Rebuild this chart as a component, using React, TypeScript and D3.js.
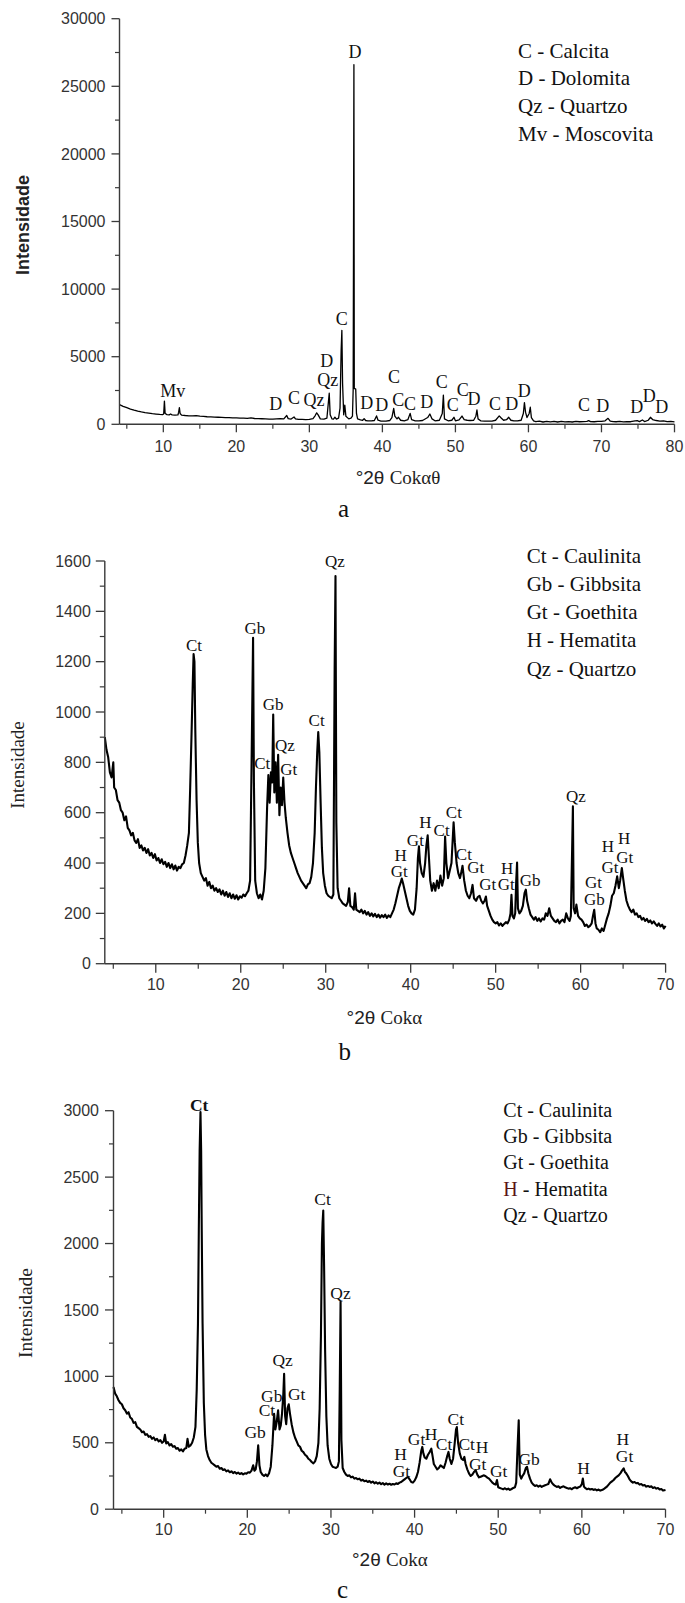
import React from 'react';
import * as d3 from 'd3';

type P = [number, number];
type L = [string, number, number];

// ---------- Panel a (calcário) ----------
const A_DATA: P[] = [
  [4.0,1450],[4.5,1330],[5.0,1230],[5.5,1130],[6.0,1050],[6.5,980],[7.0,920],[7.5,870],[8.0,830],[8.5,790],[9.0,760],[9.5,735],[9.9,720],[10.05,760],[10.15,1720],[10.25,800],[10.5,720],[10.8,700],[11.0,760],[11.2,700],[11.6,680],[12.0,690],[12.1,900],[12.2,1230],[12.3,800],[12.5,680],[13.0,650],[13.5,630],[14.0,620],[14.5,640],[15.0,600],[15.5,580],[16.0,560],[16.5,555],[17.0,530],[17.5,520],[18.0,510],[18.5,500],[19.0,490],[19.5,480],[20.0,470],[20.5,460],[21.0,450],[21.5,440],[22.0,470],[22.5,430],[23.0,420],[23.5,410],[24.0,400],[24.5,390],[25.0,380],[25.5,400],[26.0,420],[26.5,400],[26.9,650],[27.1,420],[27.5,390],[27.9,540],[28.1,400],[28.5,370],[29.0,360],[29.5,350],[30.0,360],[30.5,420],[30.8,650],[31.0,850],[31.2,700],[31.5,400],[32.0,380],[32.4,450],[32.6,1600],[32.72,2300],[32.85,700],[33.1,400],[33.3,380],[33.5,520],[33.7,380],[34.0,450],[34.2,1200],[34.35,5450],[34.45,6950],[34.55,3000],[34.7,700],[34.85,1420],[35.0,600],[35.4,400],[35.7,450],[35.9,600],[36.0,2600],[36.1,26600],[36.15,2660],[36.35,2600],[36.45,800],[36.6,400],[37.0,330],[37.3,300],[37.5,420],[37.7,280],[38.0,260],[38.5,250],[38.9,280],[39.2,620],[39.4,300],[39.8,240],[40.5,230],[41.0,280],[41.3,500],[41.55,1180],[41.7,600],[42.0,400],[42.2,520],[42.5,300],[43.0,260],[43.5,350],[43.8,810],[44.0,350],[44.5,260],[45.0,250],[45.5,280],[46.2,500],[46.5,760],[46.8,400],[47.2,260],[47.8,300],[48.2,800],[48.35,2160],[48.5,400],[49.0,260],[49.5,300],[49.8,520],[50.0,260],[50.5,330],[50.9,610],[51.2,350],[51.6,300],[52.0,280],[52.5,300],[52.8,600],[52.95,1060],[53.1,400],[53.5,250],[54.0,240],[54.5,230],[55.0,240],[55.5,300],[56.0,620],[56.3,450],[56.6,300],[57.0,340],[57.3,520],[57.6,300],[58.0,250],[58.5,250],[59.0,300],[59.3,800],[59.45,1600],[59.6,900],[59.8,500],[60.1,800],[60.25,1260],[60.4,500],[60.7,260],[61.0,200],[61.5,230],[62.0,170],[62.5,210],[63.0,180],[63.5,220],[64.0,170],[64.5,210],[65.0,180],[65.5,200],[66.0,170],[66.5,210],[67.0,190],[67.5,200],[68.0,220],[68.25,270],[68.5,200],[69.0,190],[69.5,210],[70.0,220],[70.5,260],[70.9,440],[71.2,230],[71.6,200],[72.0,190],[72.5,210],[73.0,180],[73.5,200],[74.0,190],[74.6,260],[74.9,270],[75.2,200],[75.6,320],[75.9,200],[76.4,300],[76.7,520],[77.0,350],[77.5,280],[78.0,230],[78.5,250],[79.0,200],[79.5,210],[80.0,180]
];
const A_LABELS: L[] = [
  ['D',36.25,27560],['Mv',11.28,2485],['D',25.39,1553],['C',27.89,1997],['Qz',30.63,1849],['D',32.37,4682],['Qz',32.51,3276],['C',34.43,7840],['D',37.85,1598],['D',39.9,1427],['C',41.59,3520],['C',42.18,1797],['C',43.78,1553],['D',46.07,1672],['C',48.12,3151],['C',49.63,1427],['C',50.99,2537],['D',52.54,1923],['C',55.42,1553],['D',57.7,1553],['D',59.43,2463],['C',67.6,1427],['D',70.16,1353],['D',74.82,1302],['D',76.55,2093],['D',78.24,1302]
];
const A_YTICKS = [0, 5000, 10000, 15000, 20000, 25000, 30000];
const A_XTICKS = [10, 20, 30, 40, 50, 60, 70, 80];
const A_LEGEND = ['C - Calcita', 'D - Dolomita', 'Qz - Quartzo', 'Mv - Moscovita'];

// ---------- Panel b ----------
const B_DATA: P[] = [
  [4.0,900],[4.2,850],[4.4,820],[4.6,760],[4.8,740],[5.0,800],[5.1,700],[5.3,690],[5.5,650],[5.7,640],[5.9,610],[6.1,600],[6.3,570],[6.5,585],[6.7,540],[6.9,530],[7.1,510],[7.3,520],[7.5,490],[7.7,480],[7.9,495],[8.1,460],[8.3,470],[8.5,450],[8.7,460],[8.9,440],[9.1,455],[9.3,430],[9.5,440],[9.7,420],[9.9,435],[10.1,410],[10.3,420],[10.5,400],[10.7,415],[10.9,395],[11.1,405],[11.3,385],[11.5,400],[11.7,380],[11.9,395],[12.1,375],[12.3,390],[12.5,370],[12.7,385],[12.9,380],[13.1,395],[13.3,400],[13.5,430],[13.7,470],[13.9,520],[14.05,700],[14.2,900],[14.35,1110],[14.45,1230],[14.55,1200],[14.65,930],[14.8,650],[14.95,480],[15.1,400],[15.3,360],[15.5,345],[15.7,330],[15.9,340],[16.1,310],[16.3,325],[16.5,300],[16.7,310],[16.9,290],[17.1,300],[17.3,285],[17.5,295],[17.7,275],[17.9,290],[18.1,270],[18.3,285],[18.5,265],[18.7,280],[18.9,260],[19.1,275],[19.3,258],[19.5,272],[19.7,255],[19.9,268],[20.1,262],[20.3,275],[20.5,268],[20.7,280],[20.9,290],[21.1,330],[21.3,870],[21.45,1295],[21.55,720],[21.7,330],[21.9,280],[22.1,260],[22.3,275],[22.5,255],[22.7,290],[22.9,380],[23.1,620],[23.25,750],[23.4,640],[23.55,760],[23.7,720],[23.82,990],[23.95,680],[24.1,800],[24.25,640],[24.4,830],[24.55,590],[24.7,700],[24.85,630],[25.0,740],[25.15,640],[25.3,580],[25.5,520],[25.7,470],[25.9,440],[26.1,420],[26.3,400],[26.5,380],[26.7,360],[26.9,345],[27.1,330],[27.3,320],[27.5,310],[27.7,300],[27.9,315],[28.1,320],[28.3,345],[28.5,400],[28.7,520],[28.85,700],[29.0,840],[29.12,920],[29.25,840],[29.4,640],[29.55,460],[29.7,360],[29.9,310],[30.1,280],[30.3,270],[30.5,265],[30.7,260],[30.9,275],[31.05,1170],[31.15,1540],[31.25,560],[31.4,300],[31.6,260],[31.8,250],[32.0,240],[32.2,235],[32.4,230],[32.6,245],[32.75,300],[32.9,230],[33.1,225],[33.3,215],[33.45,280],[33.6,215],[33.8,210],[34.0,205],[34.2,215],[34.4,200],[34.6,210],[34.8,195],[35.0,205],[35.2,190],[35.4,200],[35.6,188],[35.8,198],[36.0,185],[36.2,195],[36.4,183],[36.6,193],[36.8,185],[37.0,195],[37.2,182],[37.4,192],[37.6,185],[37.8,200],[38.0,215],[38.2,240],[38.4,270],[38.6,300],[38.8,320],[38.95,338],[39.1,320],[39.3,290],[39.5,260],[39.7,230],[39.9,210],[40.1,200],[40.3,195],[40.5,215],[40.7,300],[40.85,420],[40.97,466],[41.1,400],[41.3,360],[41.5,345],[41.7,400],[41.85,470],[42.0,510],[42.15,420],[42.3,330],[42.5,290],[42.7,320],[42.9,290],[43.1,330],[43.3,300],[43.5,350],[43.7,310],[43.9,340],[44.05,505],[44.2,400],[44.4,340],[44.6,370],[44.8,400],[45.05,562],[45.2,480],[45.4,400],[45.6,360],[45.8,340],[46.0,370],[46.1,389],[46.3,330],[46.5,290],[46.7,270],[46.9,260],[47.1,280],[47.28,313],[47.45,260],[47.7,250],[47.9,265],[48.1,270],[48.3,250],[48.5,240],[48.7,250],[48.85,267],[49.0,230],[49.2,210],[49.4,190],[49.6,175],[49.8,165],[50.0,160],[50.2,165],[50.4,152],[50.6,160],[50.8,150],[51.0,158],[51.2,165],[51.4,160],[51.6,175],[51.75,200],[51.86,274],[51.98,190],[52.15,180],[52.3,200],[52.42,330],[52.52,402],[52.62,220],[52.8,200],[53.0,210],[53.2,230],[53.4,280],[53.55,294],[53.7,250],[53.9,220],[54.1,195],[54.3,185],[54.5,175],[54.7,185],[54.9,170],[55.1,180],[55.3,168],[55.5,180],[55.7,175],[55.9,200],[56.1,190],[56.3,220],[56.5,190],[56.7,180],[56.9,170],[57.1,165],[57.3,175],[57.5,160],[57.7,170],[57.9,175],[58.1,165],[58.3,200],[58.5,180],[58.7,170],[58.85,190],[59.0,455],[59.09,625],[59.18,220],[59.35,200],[59.5,235],[59.7,190],[59.9,180],[60.1,175],[60.3,165],[60.5,150],[60.7,155],[60.9,145],[61.1,150],[61.3,160],[61.45,190],[61.6,214],[61.75,160],[61.9,140],[62.1,135],[62.3,125],[62.5,140],[62.7,130],[62.9,155],[63.1,180],[63.3,200],[63.5,230],[63.7,270],[63.9,280],[64.1,310],[64.3,347],[64.5,300],[64.65,330],[64.85,380],[65.0,340],[65.2,290],[65.4,250],[65.6,230],[65.8,215],[66.0,205],[66.2,215],[66.4,195],[66.6,200],[66.8,185],[67.0,190],[67.2,175],[67.4,182],[67.6,170],[67.8,178],[68.0,165],[68.2,172],[68.4,160],[68.6,168],[68.8,158],[69.0,150],[69.2,160],[69.4,148],[69.6,155],[69.8,140],[70.0,150]
];
const B_LABELS: L[] = [
  ['Ct',14.49,1266],['Gb',21.67,1332],['Gb',23.82,1033],['Ct',28.93,968],['Qz',31.08,1599],['Qz',25.2,869],['Ct',22.53,796],['Gt',25.64,772],['Qz',59.44,665],['H',38.81,433],['Gt',38.66,367],['Gt',40.55,493],['H',41.74,562],['Ct',43.64,533],['Ct',45.08,603],['Ct',46.26,437],['Gt',47.65,384],['Gt',49.08,318],['H',51.34,380],['Gt',51.24,318],['Gb',54.06,331],['Gt',61.51,323],['Gb',61.61,257],['H',63.2,469],['Gt',63.46,384],['H',65.11,500],['Gt',65.2,424]
];
const B_YTICKS = [0, 200, 400, 600, 800, 1000, 1200, 1400, 1600];
const BC_XTICKS = [10, 20, 30, 40, 50, 60, 70];
const B_LEGEND = ['Ct - Caulinita', 'Gb - Gibbsita', 'Gt - Goethita', 'H - Hematita', 'Qz - Quartzo'];

// ---------- Panel c ----------
const C_DATA: P[] = [
  [4.0,920],[4.2,870],[4.4,850],[4.6,820],[4.8,800],[5.0,790],[5.2,760],[5.4,745],[5.6,720],[5.8,730],[6.0,690],[6.2,680],[6.4,650],[6.6,655],[6.8,620],[7.0,610],[7.2,600],[7.4,580],[7.6,585],[7.8,560],[8.0,565],[8.2,545],[8.4,550],[8.6,530],[8.8,540],[9.0,520],[9.2,530],[9.4,510],[9.6,520],[9.8,500],[10.0,510],[10.15,560],[10.3,495],[10.5,505],[10.7,480],[10.9,490],[11.1,470],[11.3,475],[11.5,455],[11.7,460],[11.9,440],[12.1,450],[12.3,435],[12.5,455],[12.7,460],[12.85,530],[13.0,470],[13.2,480],[13.4,500],[13.6,540],[13.8,620],[13.95,900],[14.1,1400],[14.2,2100],[14.3,2700],[14.4,2990],[14.48,2700],[14.55,2100],[14.65,1400],[14.8,800],[14.95,560],[15.1,450],[15.3,400],[15.5,370],[15.7,350],[15.9,340],[16.1,330],[16.3,320],[16.5,325],[16.7,305],[16.9,310],[17.1,295],[17.3,300],[17.5,285],[17.7,292],[17.9,278],[18.1,285],[18.3,272],[18.5,280],[18.7,268],[18.9,276],[19.1,265],[19.3,272],[19.5,262],[19.7,270],[19.9,268],[20.1,278],[20.3,275],[20.5,290],[20.7,330],[20.85,290],[21.0,300],[21.15,360],[21.3,481],[21.45,330],[21.6,280],[21.8,260],[22.0,250],[22.2,262],[22.4,248],[22.6,270],[22.8,320],[23.0,480],[23.2,719],[23.35,600],[23.5,650],[23.68,744],[23.85,600],[24.0,630],[24.15,720],[24.3,860],[24.4,1019],[24.52,700],[24.65,640],[24.8,760],[24.95,790],[25.1,720],[25.3,640],[25.5,580],[25.7,540],[25.9,510],[26.1,480],[26.3,470],[26.5,440],[26.7,430],[26.9,410],[27.1,400],[27.3,380],[27.5,370],[27.7,355],[27.9,345],[28.1,360],[28.3,400],[28.5,500],[28.65,760],[28.8,1300],[28.92,2000],[29.0,2160],[29.08,2249],[29.18,1830],[29.3,1200],[29.45,700],[29.6,480],[29.8,380],[30.0,340],[30.2,320],[30.4,315],[30.6,310],[30.8,320],[30.95,360],[31.05,900],[31.15,1561],[31.25,520],[31.4,310],[31.6,280],[31.8,260],[32.0,250],[32.2,255],[32.4,240],[32.6,245],[32.8,230],[33.0,235],[33.2,225],[33.4,230],[33.6,215],[33.8,222],[34.0,210],[34.2,215],[34.4,205],[34.6,212],[34.8,200],[35.0,208],[35.2,195],[35.4,203],[35.6,192],[35.8,200],[36.0,188],[36.2,196],[36.4,185],[36.6,194],[36.8,186],[37.0,192],[37.2,184],[37.4,190],[37.6,186],[37.8,195],[38.0,190],[38.2,200],[38.4,205],[38.6,215],[38.8,225],[39.0,235],[39.2,244],[39.4,225],[39.6,205],[39.8,200],[40.0,215],[40.2,240],[40.4,280],[40.6,350],[40.8,440],[40.92,469],[41.05,420],[41.2,390],[41.4,380],[41.6,410],[41.8,430],[42.0,456],[42.15,400],[42.3,340],[42.5,320],[42.7,300],[42.9,310],[43.1,330],[43.3,320],[43.5,310],[43.7,350],[43.9,400],[44.05,431],[44.2,380],[44.4,340],[44.6,380],[44.8,500],[44.95,600],[45.05,619],[45.2,500],[45.4,420],[45.6,380],[45.8,370],[45.95,394],[46.1,340],[46.3,300],[46.5,270],[46.7,250],[46.9,260],[47.1,280],[47.3,294],[47.5,260],[47.7,240],[47.9,245],[48.1,250],[48.3,255],[48.5,248],[48.7,238],[48.9,230],[49.1,215],[49.3,200],[49.5,190],[49.7,185],[49.85,219],[50.0,165],[50.2,160],[50.4,155],[50.6,150],[50.8,158],[51.0,148],[51.2,155],[51.4,145],[51.6,152],[51.8,160],[52.0,165],[52.15,200],[52.3,450],[52.45,669],[52.58,260],[52.75,230],[52.9,250],[53.1,270],[53.3,310],[53.44,319],[53.6,270],[53.8,230],[54.0,200],[54.2,185],[54.4,175],[54.6,180],[54.8,170],[55.0,178],[55.2,168],[55.4,175],[55.6,180],[55.8,185],[56.0,190],[56.2,225],[56.4,200],[56.6,185],[56.8,175],[57.0,168],[57.2,172],[57.4,160],[57.6,168],[57.8,172],[58.0,165],[58.2,160],[58.4,155],[58.6,158],[58.8,150],[59.0,160],[59.2,165],[59.4,158],[59.6,165],[59.8,170],[60.0,190],[60.12,231],[60.25,170],[60.4,160],[60.6,150],[60.8,155],[61.0,148],[61.2,152],[61.4,145],[61.6,150],[61.8,142],[62.0,148],[62.2,140],[62.4,145],[62.6,150],[62.8,160],[63.0,170],[63.2,185],[63.4,200],[63.6,210],[63.8,220],[64.0,235],[64.2,245],[64.4,255],[64.6,270],[64.8,290],[65.0,307],[65.15,280],[65.3,270],[65.5,250],[65.7,225],[65.9,210],[66.1,200],[66.3,205],[66.5,195],[66.7,198],[66.9,185],[67.1,190],[67.3,178],[67.5,182],[67.7,170],[67.9,175],[68.1,168],[68.3,172],[68.5,160],[68.7,165],[68.9,155],[69.1,160],[69.3,148],[69.5,152],[69.7,140],[70.0,145]
];
const C_LABELS: L[] = [
  ['Ct',14.25,3044],['Ct',28.99,2339],['Qz',31.14,1631],['Gb',20.94,581],['Ct',22.35,744],['Gb',22.92,851],['Qz',24.23,1124],['Gt',25.9,869],['H',38.31,419],['Gt',38.42,287],['Gt',40.24,532],['H',41.97,569],['Ct',43.52,494],['Ct',44.93,682],['Ct',46.23,494],['H',48.06,469],['Gt',47.55,344],['Gt',50.05,287],['Gb',53.7,377],['H',60.21,314],['H',64.91,532],['Gt',65.11,399]
];
const C_YTICKS = [0, 500, 1000, 1500, 2000, 2500, 3000];
const C_LEGEND = ['Ct - Caulinita', 'Gb - Gibbsita', 'Gt - Goethita', 'H - Hematita', 'Qz - Quartzo'];

const SANS = '"Liberation Sans", Arial, Helvetica, sans-serif';
const SERIF = '"Liberation Serif", "Times New Roman", Times, serif';
const AXIS = '#3a3a3a';
const TICKTXT = '#333';

interface Cfg {
  data: P[];
  labels: L[];
  xDomain: [number, number];
  yDomain: [number, number];
  xRange: [number, number];
  yRange: [number, number];
  xTicks: number[];
  xMinor: number;
  yTicks: number[];
  yMinor: number;
  xTickBase: number;
  yLabelGap: number;
  majorLen: number;
  minorLen: number;
  labelSize: number;
  boldFirst?: boolean;
  lineWidth: number;
  yTitle: { x: number; y: number; font: string; size: number; weight: string };
  xTitle: { x: number; y: number; last: string };
  legend: string[];
  legendX: number;
  legendY: number;
  legendStep: number;
  legendSize: number;
  redH?: boolean;
  panel: { text: string; x: number; y: number };
}

function Panel({ c }: { c: Cfg }) {
  const x = d3.scaleLinear().domain(c.xDomain).range(c.xRange);
  const y = d3.scaleLinear().domain(c.yDomain).range(c.yRange);
  const line = d3.line<P>().x(d => x(d[0])).y(d => y(d[1]));
  const xMinorTicks = d3.range(Math.ceil(c.xDomain[0] / c.xMinor) * c.xMinor, c.xDomain[1] + 1e-9, c.xMinor)
    .filter(v => !c.xTicks.includes(v));
  const yMinorTicks = d3.range(c.yDomain[0], c.yDomain[1] + 1e-9, c.yMinor).filter(v => !c.yTicks.includes(v));
  const y0 = c.yRange[0];
  const x0 = c.xRange[0];
  return (
    <g>
      <path d={line(c.data) || ''} fill="none" stroke="#000" strokeWidth={c.lineWidth} strokeLinejoin="round" />
      <line x1={x0} x2={x0} y1={c.yRange[1]} y2={y0} stroke={AXIS} strokeWidth={1.4} />
      <line x1={x0} x2={c.xRange[1]} y1={y0} y2={y0} stroke={AXIS} strokeWidth={1.4} />
      {c.yTicks.map(t => (
        <g key={'yt' + t}>
          <line x1={x0 - c.majorLen} x2={x0} y1={y(t)} y2={y(t)} stroke={AXIS} strokeWidth={1.3} />
          <text x={x0 - c.majorLen - c.yLabelGap} y={y(t)} dy="0.35em" textAnchor="end" fontFamily={SANS} fontSize={16} fill={TICKTXT}>{t}</text>
        </g>
      ))}
      {yMinorTicks.map(t => (
        <line key={'ym' + t} x1={x0 - c.minorLen} x2={x0} y1={y(t)} y2={y(t)} stroke={AXIS} strokeWidth={1.2} />
      ))}
      {c.xTicks.map(t => (
        <g key={'xt' + t}>
          <line x1={x(t)} x2={x(t)} y1={y0} y2={y0 + c.majorLen} stroke={AXIS} strokeWidth={1.3} />
          <text x={x(t)} y={c.xTickBase} textAnchor="middle" fontFamily={SANS} fontSize={16} fill={TICKTXT}>{t}</text>
        </g>
      ))}
      {xMinorTicks.map(t => (
        <line key={'xm' + t} x1={x(t)} x2={x(t)} y1={y0} y2={y0 + c.minorLen} stroke={AXIS} strokeWidth={1.2} />
      ))}
      {c.labels.map((l, i) => (
        <text key={'pl' + i} x={x(l[1])} y={y(l[2])} dy="0.35em" textAnchor="middle" fontFamily={SERIF}
          fontSize={c.labelSize} fontWeight={c.boldFirst && i === 0 ? 'bold' : 'normal'} fill="#111">{l[0]}</text>
      ))}
      <text transform={`translate(${c.yTitle.x},${c.yTitle.y}) rotate(-90)`} dy="0.35em" textAnchor="middle"
        fontFamily={c.yTitle.font} fontSize={c.yTitle.size} fontWeight={c.yTitle.weight} fill="#222">Intensidade</text>
      <text x={c.xTitle.x} y={c.xTitle.y} textAnchor="middle" fontSize={19} fill="#222">
        <tspan fontFamily={SANS}>°2θ </tspan>
        <tspan fontFamily={SERIF}>{c.xTitle.last}</tspan>
      </text>
      {c.legend.map((s, i) => {
        const isH = c.redH && s.startsWith('H ');
        return (
          <text key={'lg' + i} x={c.legendX} y={c.legendY + i * c.legendStep} fontFamily={SERIF} fontSize={c.legendSize} fill="#111">
            {isH ? (<><tspan fill="#5a1414">H</tspan>{s.slice(1)}</>) : s}
          </text>
        );
      })}
      <text x={c.panel.x} y={c.panel.y} textAnchor="middle" fontFamily={SERIF} fontSize={25} fill="#111">{c.panel.text}</text>
    </g>
  );
}

const CFG_A: Cfg = {
  data: A_DATA, labels: A_LABELS,
  xDomain: [4, 80], yDomain: [0, 30000], xRange: [119.5, 674.5], yRange: [424.3, 18.7],
  xTicks: A_XTICKS, xMinor: 5, yTicks: A_YTICKS, yMinor: 2500,
  xTickBase: 451.5, yLabelGap: 6, majorLen: 8, minorLen: 4.5, labelSize: 18, lineWidth: 1.3,
  yTitle: { x: 23, y: 225, font: SANS, size: 18, weight: 'bold' },
  xTitle: { x: 398, y: 484, last: 'Cokαθ' },
  legend: A_LEGEND, legendX: 518, legendY: 57.5, legendStep: 27.8, legendSize: 21,
  panel: { text: 'a', x: 343.5, y: 516.5 },
};
const CFG_B: Cfg = {
  data: B_DATA, labels: B_LABELS,
  xDomain: [4, 70], yDomain: [0, 1600], xRange: [104.8, 665.6], yRange: [963.7, 561],
  xTicks: BC_XTICKS, xMinor: 5, yTicks: B_YTICKS, yMinor: 100,
  xTickBase: 989.5, yLabelGap: 5, majorLen: 9, minorLen: 5, labelSize: 17, lineWidth: 2.1,
  yTitle: { x: 17.5, y: 765, font: SERIF, size: 19, weight: 'normal' },
  xTitle: { x: 384.4, y: 1023.5, last: 'Cokα' },
  legend: B_LEGEND, legendX: 526.7, legendY: 562.5, legendStep: 28.3, legendSize: 21,
  panel: { text: 'b', x: 344.8, y: 1060 },
};
const CFG_C: Cfg = {
  data: C_DATA, labels: C_LABELS,
  xDomain: [4, 70], yDomain: [0, 3000], xRange: [113.5, 665.5], yRange: [1509.2, 1110.7],
  xTicks: BC_XTICKS, xMinor: 5, yTicks: C_YTICKS, yMinor: 250,
  xTickBase: 1535, yLabelGap: 6, majorLen: 8.5, minorLen: 4.5, labelSize: 17.5, boldFirst: true, lineWidth: 2.1,
  yTitle: { x: 25, y: 1313, font: SERIF, size: 19.5, weight: 'normal' },
  xTitle: { x: 389.8, y: 1566, last: 'Cokα' },
  legend: C_LEGEND, legendX: 503.3, legendY: 1116.8, legendStep: 26.3, legendSize: 20, redH: true,
  panel: { text: 'c', x: 342.5, y: 1598 },
};

export default function App() {
  return (
    <svg width={685} height={1603} viewBox="0 0 685 1603"
      style={{ position: 'absolute', left: 0, top: 0, background: '#fff', display: 'block' }}>
      <rect x={0} y={0} width={685} height={1603} fill="#fff" />
      <Panel c={CFG_A} />
      <Panel c={CFG_B} />
      <Panel c={CFG_C} />
    </svg>
  );
}
